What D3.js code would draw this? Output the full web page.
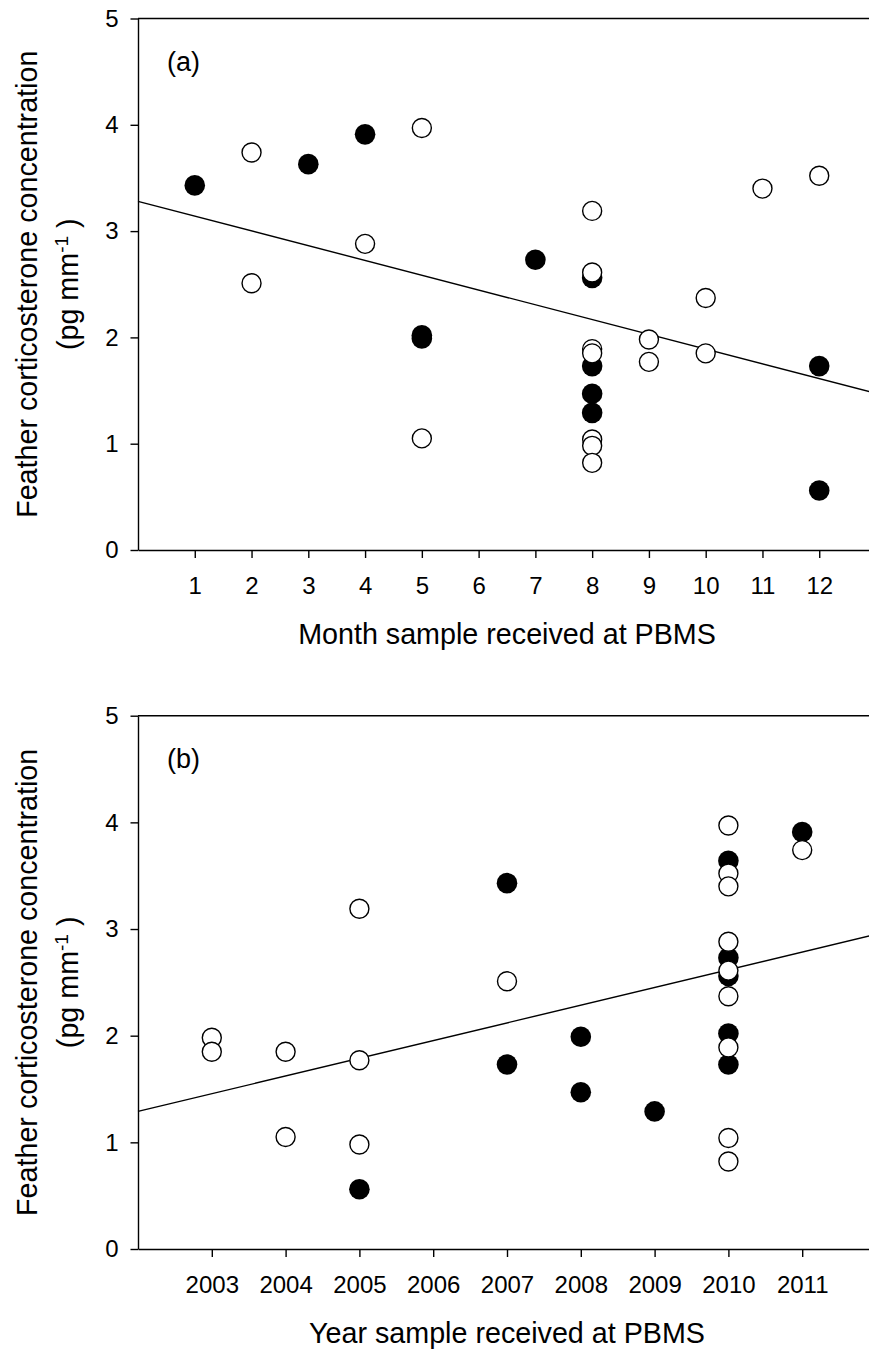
<!DOCTYPE html>
<html>
<head>
<meta charset="utf-8">
<script src="https://cdn.jsdelivr.net/npm/d3@7"></script>
<style>
  body { margin: 0; background: #fff; }
  svg { display: block; font-family: "Liberation Sans", Arial, sans-serif; }
  .axis path, .axis line { stroke: #000; stroke-width: 1.4; }
  .axis text { font-size: 24px; fill: #000; }
</style>
</head>
<body>
<svg width="869" height="1351"></svg>
<script>
// panel (a): month the sample came in
const monthTicks = [1, 2, 3, 4, 5, 6, 7, 8, 9, 10, 11, 12];
const monthFilledX = [1, 3, 4, 5, 5, 7, 8, 8, 8, 8, 12, 12];
const monthFilledY = [3.43, 3.63, 3.91, 2.02, 1.99, 2.73, 2.56, 1.73, 1.47, 1.29, 1.73, 0.56];
const monthOpenX = [2, 2, 4, 5, 5, 8, 8, 8, 8, 8, 8, 8, 9, 9, 10, 10, 11, 12];
const monthOpenY = [3.74, 2.51, 2.88, 3.97, 1.05, 3.19, 2.61, 1.89, 1.85, 1.04, 0.98, 0.82, 1.98, 1.77, 2.37, 1.85, 3.40, 3.52];
const monthTrend = [3.28, -0.139]; // intercept at month 0, slope

// panel (b): year the sample came in
const yearTicks = [2003, 2004, 2005, 2006, 2007, 2008, 2009, 2010, 2011];
const yearFilledX = [2005, 2007, 2007, 2008, 2008, 2009, 2010, 2010, 2010, 2010, 2010, 2011];
const yearFilledY = [0.56, 3.43, 1.73, 1.99, 1.47, 1.29, 3.64, 2.73, 2.56, 2.02, 1.73, 3.91];
const yearOpenX = [2003, 2003, 2004, 2004, 2005, 2005, 2005, 2007, 2010, 2010, 2010, 2010, 2010, 2010, 2010, 2010, 2010, 2011];
const yearOpenY = [1.98, 1.85, 1.85, 1.05, 3.19, 1.77, 0.98, 2.51, 3.97, 3.52, 3.40, 2.88, 2.61, 2.37, 1.89, 1.04, 0.82, 3.74];
const yearTrend = [1.29, 0.166]; // intercept at 2002, slope

const yTicks = [0, 1, 2, 3, 4, 5];

const svg = d3.select("svg");
const left = 138, right = 876;

function panel(opts) {
    const x = d3.scaleLinear().domain(opts.xDomain).range([left, right]);
    const y = d3.scaleLinear().domain([0, 5]).range([opts.bottom, opts.top]);
    const g = svg.append("g");

    // frame top line
    g.append("line")
        .attr("x1", left).attr("x2", right)
        .attr("y1", opts.top).attr("y2", opts.top)
        .attr("stroke", "#000").attr("stroke-width", 1.4);

    g.append("g")
        .attr("class", "axis")
        .attr("transform", `translate(0, ${opts.bottom})`)
        .call(d3.axisBottom(x).tickValues(opts.ticks).tickFormat(d3.format("d"))
            .tickSize(8).tickSizeOuter(0).tickPadding(19));

    g.append("g")
        .attr("class", "axis")
        .attr("transform", `translate(${left}, 0)`)
        .call(d3.axisLeft(y).tickValues(yTicks).tickFormat(d3.format("d"))
            .tickSize(7.5).tickSizeOuter(0).tickPadding(12));

    // regression line
    const x0 = opts.xDomain[0], x1 = opts.xDomain[1];
    g.append("line")
        .attr("x1", x(x0)).attr("y1", y(opts.trend[0]))
        .attr("x2", x(x1)).attr("y2", y(opts.trend[0] + opts.trend[1] * (x1 - x0)))
        .attr("stroke", "#000").attr("stroke-width", 1.4);

    g.selectAll(".filled")
        .data(d3.zip(opts.fx, opts.fy))
        .enter().append("circle")
        .attr("class", "filled")
        .attr("cx", d => x(d[0]))
        .attr("cy", d => y(d[1]))
        .attr("r", 10.3)
        .attr("fill", "#000");

    g.selectAll(".open")
        .data(d3.zip(opts.ox, opts.oy))
        .enter().append("circle")
        .attr("class", "open")
        .attr("cx", d => x(d[0]))
        .attr("cy", d => y(d[1]))
        .attr("r", 9.5)
        .attr("fill", "#fff")
        .attr("stroke", "#000")
        .attr("stroke-width", 1.4);

    // panel letter
    g.append("text")
        .attr("x", 167).attr("y", opts.top + 52)
        .attr("font-size", 27)
        .text(opts.letter);

    // x title
    g.append("text")
        .attr("x", (left + right) / 2)
        .attr("y", opts.bottom + 94)
        .attr("text-anchor", "middle")
        .attr("font-size", 28.7)
        .text(opts.xTitle);

    // y title, two lines
    const cy = (opts.top + opts.bottom) / 2;
    g.append("text")
        .attr("transform", `translate(37, ${cy}) rotate(-90)`)
        .attr("text-anchor", "middle")
        .attr("font-size", 28.7)
        .text("Feather corticosterone concentration");

    const unit = g.append("text")
        .attr("transform", `translate(78, ${cy}) rotate(-90)`)
        .attr("text-anchor", "middle")
        .attr("font-size", 28.7);
    unit.append("tspan").text("(pg mm");
    unit.append("tspan").attr("dy", -10).attr("font-size", 19).text("-1");
    unit.append("tspan").attr("dy", 10).text(" )");
}

panel({
    top: 18.5, bottom: 550, xDomain: [0, 13], ticks: monthTicks,
    fx: monthFilledX, fy: monthFilledY, ox: monthOpenX, oy: monthOpenY,
    trend: monthTrend, letter: "(a)", xTitle: "Month sample received at PBMS"
});

panel({
    top: 715.7, bottom: 1249, xDomain: [2002, 2012], ticks: yearTicks,
    fx: yearFilledX, fy: yearFilledY, ox: yearOpenX, oy: yearOpenY,
    trend: yearTrend, letter: "(b)", xTitle: "Year sample received at PBMS"
});
</script>
</body>
</html>
